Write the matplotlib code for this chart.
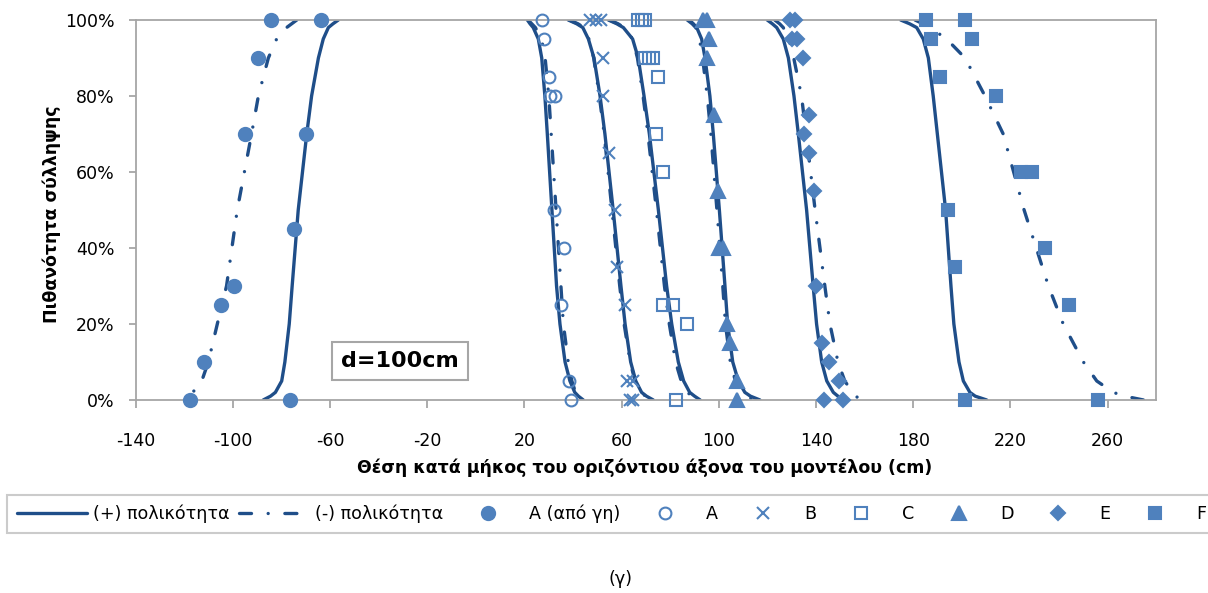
import matplotlib.pyplot as plt
from matplotlib.ticker import FuncFormatter

plt.rcParams['font.family'] = ['DejaVu Sans']
plt.rcParams['axes.unicode_minus'] = False

levels = [100, 99, 98, 95, 90, 80, 70, 50, 30, 20, 10, 5, 2, 1, 0]

# fitted curves, x position (cm) at each level; pos = (+) polarity, neg = (-) polarity
pos_ag = [-56.6, -58.8, -60.7, -62.8, -64.8, -67.6, -69.6, -73.1, -75.6, -76.8, -78.6, -79.9, -82.5, -84.5, -87.5]
neg_ag = [-73.7, -75.8, -77.9, -82.0, -85.4, -89.5, -92.3, -98.2, -102.6, -106.4, -110.1, -112.8, -116.5, -118.5, -121.0]
pos_a = [21.2, 22.3, 23.6, 25.7, 27.1, 28.4, 29.4, 31.3, 33.2, 34.6, 36.7, 38.7, 40.7, 42.2, 44.2]
neg_a = [21.5, 23.0, 24.5, 27.0, 28.5, 30.0, 31.0, 33.0, 35.0, 36.0, 38.0, 39.5, 41.0, 42.0, 43.0]
pos_b = [38.0, 41.5, 44.0, 46.3, 48.6, 51.1, 53.1, 56.5, 59.7, 61.4, 63.7, 65.8, 68.2, 70.2, 73.0]
neg_b = [38.5, 42.0, 44.5, 46.5, 48.5, 50.8, 52.8, 56.0, 59.2, 61.0, 63.5, 65.5, 68.0, 69.8, 72.0]
pos_c = [54.5, 58.0, 60.7, 64.5, 66.8, 69.2, 71.4, 75.1, 78.5, 80.6, 83.3, 85.5, 88.0, 90.0, 92.3]
neg_c = [55.0, 58.5, 61.0, 64.5, 66.5, 68.8, 70.8, 74.3, 77.6, 79.6, 82.2, 84.5, 87.0, 89.0, 91.5]
pos_d = [87.8, 89.5, 90.9, 92.9, 94.3, 96.3, 97.7, 100.2, 102.5, 103.6, 105.7, 108.0, 110.7, 113.0, 116.9]
neg_d = [87.0, 89.0, 90.5, 92.0, 93.3, 95.2, 96.7, 99.2, 101.6, 102.7, 104.7, 106.8, 109.3, 111.5, 114.5]
pos_e = [119.9, 122.0, 123.8, 126.5, 128.6, 130.9, 132.7, 136.1, 138.8, 140.2, 142.3, 144.4, 147.1, 149.0, 151.2]
neg_e = [123.0, 125.0, 126.5, 128.8, 130.8, 134.0, 135.9, 139.6, 143.6, 145.7, 149.0, 151.8, 155.0, 156.5, 158.0]
pos_f = [174.8, 178.5, 181.4, 184.1, 186.2, 188.2, 189.9, 193.3, 195.5, 196.7, 198.8, 200.6, 203.3, 205.5, 210.2]
neg_f = [180.7, 184.0, 186.9, 193.7, 201.3, 209.5, 217.0, 225.6, 235.6, 241.7, 250.0, 255.5, 262.3, 267.0, 274.7]

# measured points
ag_x = [-84.4, -63.9, -89.8, -94.9, -69.8, -74.9, -99.5, -104.8, -111.8, -117.8, -76.6]
ag_y = [100, 100, 90, 70, 70, 45, 30, 25, 10, 0, 0]
a_x = [27.1, 28.2, 30.2, 30.5, 32.6, 32.1, 36.3, 35.0, 38.2, 39.1]
a_y = [100, 95, 85, 80, 80, 50, 40, 25, 5, 0]
b_x = [47.0, 49.5, 51.5, 52.2, 52.4, 54.9, 57.2, 58.2, 61.2, 62.0, 64.8, 63.5, 64.8]
b_y = [100, 100, 100, 90, 80, 65, 50, 35, 25, 5, 5, 0, 0]
c_x = [66.8, 68.2, 69.6, 69.6, 71.4, 73.0, 75.1, 74.0, 77.1, 76.9, 81.0, 87.0, 82.2]
c_y = [100, 100, 100, 90, 90, 90, 85, 70, 60, 25, 25, 20, 0]
d_x = [93.6, 95.0, 96.1, 95.2, 98.0, 99.8, 100.2, 101.8, 103.2, 104.6, 107.3, 107.6]
d_y = [100, 100, 95, 90, 75, 55, 40, 40, 20, 15, 5, 0]
e_x = [129.3, 131.3, 130.0, 132.0, 134.5, 137.2, 135.1, 137.2, 139.1, 140.0, 142.3, 145.3, 149.4, 143.3, 151.2]
e_y = [100, 100, 95, 95, 90, 75, 70, 65, 55, 30, 15, 10, 5, 0, 0]
f_x = [185.2, 201.3, 187.2, 204.2, 191.1, 214.0, 224.3, 229.0, 194.2, 197.2, 234.2, 244.1, 201.3, 256.1]
f_y = [100, 100, 95, 95, 85, 80, 60, 60, 50, 35, 40, 25, 0, 0]

x_ticks = [-140, -100, -60, -20, 20, 60, 100, 140, 180, 220, 260]
y_ticks = [0, 20, 40, 60, 80, 100]

line_col = '#1F4E89'
mark_col = '#4F81BD'
grey = '#A6A6A6'

fig = plt.figure(figsize=(12.08, 5.93), dpi=100)
ax = fig.add_axes([0.1123, 0.3255, 0.8449, 0.6408])

pos_curves = [pos_ag, pos_a, pos_b, pos_c, pos_d, pos_e, pos_f]
neg_curves = [neg_ag, neg_a, neg_b, neg_c, neg_d, neg_e, neg_f]
for i, (xp, xn) in enumerate(zip(pos_curves, neg_curves)):
    ax.plot(xp, levels, color=line_col, lw=2.4, solid_capstyle='round',
            label='(+) πολικότητα' if i == 0 else None, zorder=2)
    ax.plot(xn, levels, color=line_col, lw=2.4, dashes=(3.6, 5.0, 0.01, 5.0),
            dash_capstyle='round', label='(-) πολικότητα' if i == 0 else None, zorder=2)

# name, x, y, marker, filled, size
series = [
    ('A (από γη)', ag_x, ag_y, 'o', True, 9.5),
    ('A', a_x, a_y, 'o', False, 8.5),
    ('B', b_x, b_y, 'x', False, 8.5),
    ('C', c_x, c_y, 's', False, 8.5),
    ('D', d_x, d_y, '^', True, 10),
    ('E', e_x, e_y, 'D', True, 7.5),
    ('F', f_x, f_y, 's', True, 9),
]
for name, xs, ys, mk, filled, ms in series:
    ax.plot(xs, ys, linestyle='none', marker=mk, markersize=ms,
            markerfacecolor=mark_col if filled else 'none',
            markeredgecolor=mark_col, markeredgewidth=1.5,
            label=name, zorder=3, clip_on=False)

ax.set_xlim(-140, 280)
ax.set_ylim(0, 100)
ax.set_xticks(x_ticks)
ax.set_yticks(y_ticks)
ax.yaxis.set_major_formatter(FuncFormatter(lambda v, p: '%d%%' % v))
ax.tick_params(axis='both', direction='out', color=grey, width=1.3, labelsize=12.5)
ax.tick_params(axis='x', length=6, pad=17)
ax.tick_params(axis='y', length=5, pad=10)
for sp in ax.spines.values():
    sp.set_color(grey)
    sp.set_linewidth(1.3)

fig.text(645 / 1208, 1 - 468 / 593, 'Θέση κατά μήκος του οριζόντιου άξονα του μοντέλου (cm)',
         ha='center', va='center', fontsize=12.5, fontweight='bold')
fig.text(52 / 1208, 1 - 214 / 593, 'Πιθανότητα σύλληψης', rotation=90,
         ha='center', va='center', fontsize=12.5, fontweight='bold')

ax.text(0.259, 0.103, 'd=100cm', transform=ax.transAxes, ha='center', va='center',
        fontsize=16, fontweight='bold',
        bbox=dict(boxstyle='square,pad=0.4', fc='white', ec=grey, lw=1.5))

handles, labels = ax.get_legend_handles_labels()
leg = fig.legend(handles, labels, loc='upper left', bbox_to_anchor=(7 / 1208, 1 - 495 / 593),
                 ncol=9, fontsize=12.6, handlelength=4.0, handletextpad=0.35,
                 columnspacing=0.55, borderpad=0.55, borderaxespad=0,
                 fancybox=False, edgecolor='#BFBFBF')
leg.get_frame().set_linewidth(1.5)

fig.text(620 / 1208, 1 - 579 / 593, '(γ)', ha='center', va='center', fontsize=12.6)

fig.savefig('out.png', dpi=100)
